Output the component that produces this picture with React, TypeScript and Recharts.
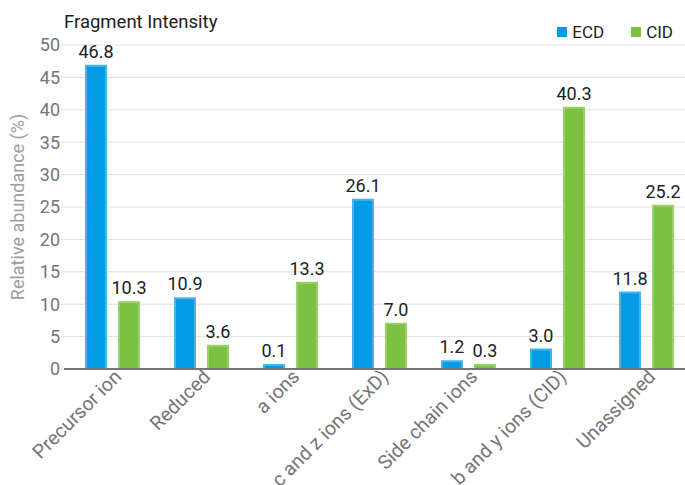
import { Bar, BarChart, CartesianGrid, LabelList, XAxis, YAxis } from "recharts";

const categories = [
  "Precursor ion",
  "Reduced",
  "a ions",
  "c and z ions (ExD)",
  "Side chain ions",
  "b and y ions (CID)",
  "Unassigned",
];
const ecd = [46.8, 10.9, 0.1, 26.1, 1.2, 3.0, 11.8];
const cid = [10.3, 3.6, 13.3, 7.0, 0.3, 40.3, 25.2];
const yTicks = [0, 5, 10, 15, 20, 25, 30, 35, 40, 45, 50];

const BLUE = "#039be5";
const GREEN = "#7cc142";
const FONT = "Roboto, 'Noto Sans', sans-serif";

const data = categories.map((name, i) => ({ name, ecd: ecd[i], cid: cid[i] }));

function XTick({ x, y, payload }: any) {
  return (
    <g transform={`translate(${x + 10},${y + 1})`}>
      <text
        x={0}
        y={0}
        textAnchor="end"
        transform="rotate(-45)"
        fill="#757575"
        fontSize={19.5}
        fontFamily={FONT}
      >
        {payload.value}
      </text>
    </g>
  );
}

const fmt = (v: any) => Number(v).toFixed(1);

export default function App() {
  return (
    <div
      style={{
        position: "absolute",
        left: 0,
        top: 0,
        width: 685,
        height: 485,
        overflow: "hidden",
        fontFamily: FONT,
      }}
    >
      <div style={{ position: "absolute", left: 64, top: 11, fontSize: 18.5, color: "#212121" }}>
        Fragment Intensity
      </div>
      <div
        style={{
          position: "absolute",
          right: 12,
          top: 22,
          display: "flex",
          alignItems: "center",
          fontSize: 17,
          color: "#212121",
        }}
      >
        <span style={{ width: 10, height: 10, background: BLUE, display: "inline-block", marginRight: 5 }} />
        <span style={{ marginRight: 27 }}>ECD</span>
        <span style={{ width: 10, height: 10, background: GREEN, display: "inline-block", marginRight: 5 }} />
        <span>CID</span>
      </div>
      <BarChart
        width={691}
        height={485}
        data={data}
        margin={{ top: 45, right: 0, left: 0, bottom: 6 }}
        barSize={20}
        barGap={13}
      >
        <CartesianGrid vertical={false} stroke="#e0e0e0" strokeWidth={1} />
        <XAxis
          dataKey="name"
          interval={0}
          height={110}
          tickLine={false}
          axisLine={{ stroke: "#757575", strokeWidth: 2 }}
          tick={<XTick />}
          padding={{ left: 4, right: 0 }}
        />
        <YAxis
          width={64}
          domain={[0, 50]}
          ticks={yTicks}
          axisLine={false}
          tickLine={{ stroke: "#e0e0e0" }}
          tickSize={3}
          tickMargin={1}
          tick={{ fill: "#757575", fontSize: 18, fontFamily: FONT }}
          label={{
            value: "Relative abundance (%)",
            angle: -90,
            position: "insideLeft",
            offset: 18,
            style: { textAnchor: "middle", fill: "#9e9e9e", fontSize: 18, fontFamily: FONT },
          }}
        />
        <Bar
          dataKey="ecd"
          fill={BLUE}
          stroke="#45b4ec"
          strokeWidth={2}
          minPointSize={4}
          isAnimationActive={false}
        >
          <LabelList
            dataKey="ecd"
            position="top"
            offset={8}
            formatter={fmt}
            fill="#212121"
            fontSize={18}
            fontFamily={FONT}
          />
        </Bar>
        <Bar
          dataKey="cid"
          fill={GREEN}
          stroke="#98d06a"
          strokeWidth={2}
          minPointSize={4}
          isAnimationActive={false}
        >
          <LabelList
            dataKey="cid"
            position="top"
            offset={8}
            formatter={fmt}
            fill="#212121"
            fontSize={18}
            fontFamily={FONT}
          />
        </Bar>
      </BarChart>
    </div>
  );
}
